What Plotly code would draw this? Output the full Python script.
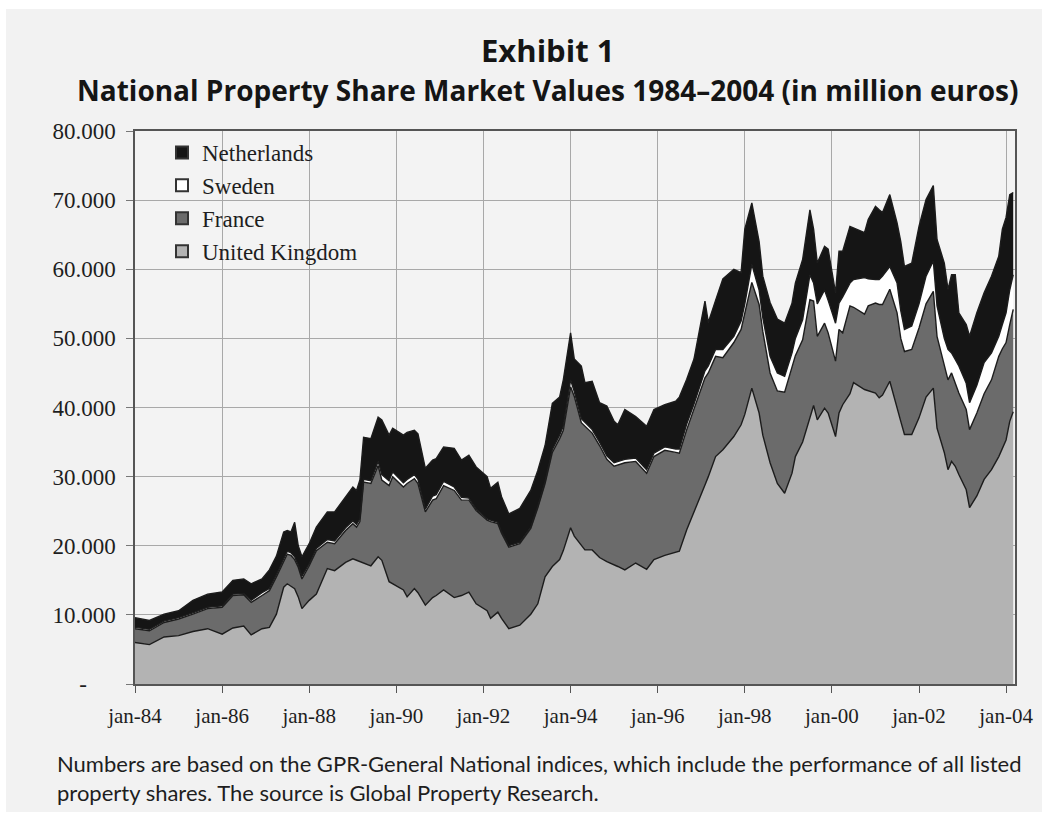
import plotly.graph_objects as go

# Month-end observations (sampled months), values in million euros
dates = [
    "1984-01", "1984-05", "1984-09", "1985-01", "1985-05", "1985-09", "1986-01", "1986-04", "1986-07", "1986-09",
    "1986-12", "1987-02", "1987-04", "1987-06", "1987-07", "1987-08", "1987-09", "1987-10", "1987-11", "1988-01",
    "1988-03", "1988-06", "1988-08", "1988-11", "1989-01", "1989-02", "1989-03", "1989-04", "1989-06", "1989-08",
    "1989-09", "1989-11", "1989-12", "1990-03", "1990-04", "1990-06", "1990-07", "1990-09", "1990-11", "1990-12",
    "1991-02", "1991-05", "1991-07", "1991-09", "1991-11", "1992-02", "1992-03", "1992-05", "1992-06", "1992-08",
    "1992-11", "1993-02", "1993-04", "1993-06", "1993-08", "1993-10", "1993-11", "1994-01", "1994-02", "1994-04",
    "1994-05", "1994-07", "1994-09", "1994-11", "1995-01", "1995-02", "1995-04", "1995-07", "1995-10", "1995-12",
    "1996-03", "1996-06", "1996-07", "1996-09", "1996-11", "1997-02", "1997-03", "1997-05", "1997-07", "1997-10",
    "1997-12", "1998-01", "1998-03", "1998-05", "1998-06", "1998-08", "1998-10", "1998-12", "1999-02", "1999-03",
    "1999-05", "1999-07", "1999-08", "1999-09", "1999-11", "1999-12", "2000-02", "2000-03", "2000-04", "2000-06",
    "2000-07", "2000-10", "2000-11", "2001-01", "2001-02", "2001-03", "2001-05", "2001-07", "2001-08", "2001-09",
    "2001-11", "2002-01", "2002-03", "2002-05", "2002-06", "2002-08", "2002-09", "2002-10", "2002-11", "2002-12",
    "2003-02", "2003-03", "2003-05", "2003-07", "2003-09", "2003-11", "2003-12", "2004-01", "2004-02", "2004-03",
]

united_kingdom = [
    6000, 5700, 6800, 7000, 7600, 8000, 7200, 8100, 8400, 7100,
    8000, 8200, 10100, 14000, 14500, 14200, 13800, 12600, 10900, 12100,
    13000, 16700, 16400, 17600, 18100, 17900, 17700, 17500, 17100, 18400,
    17900, 14800, 14500, 13600, 12600, 13800, 13200, 11400, 12500, 12800,
    13600, 12500, 12800, 13300, 11600, 10600, 9500, 10400, 9500, 8000,
    8500, 10100, 11600, 15500, 17000, 18000, 19300, 22600, 21400, 20100,
    19400, 19400, 18300, 17700, 17300, 17000, 16500, 17500, 16600, 18000,
    18600, 19100, 19200, 22300, 25000, 28800, 30000, 32900, 33900, 35800,
    37500, 39000, 42800, 39200, 36000, 32000, 29000, 27600, 30500, 32900,
    35000, 38500, 40300, 38200, 39900, 39200, 35800, 39200, 40400, 42000,
    43600, 42600, 42400, 42100, 41400, 41800, 43800, 40200, 38000, 36100,
    36100, 38500, 41500, 42800, 37000, 33500, 31000, 32200, 31500, 30300,
    28100, 25500, 27200, 29600, 31000, 32900, 34000, 35300, 38000, 39400,
]

france = [
    2000, 2000, 2100, 2400, 2500, 2900, 3900, 4700, 4500, 4700,
    4800, 5300, 5400, 3600, 4300, 4400, 4200, 4300, 4300, 5000,
    6300, 3800, 3900, 4600, 5100, 4800, 5800, 11700, 11900, 13200,
    11600, 13900, 15500, 14900, 16400, 15900, 15800, 13500, 14100, 14000,
    15100, 15500, 13800, 13300, 13500, 13100, 14000, 12800, 12300, 11800,
    11800, 12400, 13900, 13500, 16500, 17500, 17400, 20400, 20200, 17700,
    17900, 16900, 16200, 14800, 14200, 14700, 15500, 14700, 13900, 14900,
    15200, 14400, 14200, 14500, 14700, 15500, 15000, 14500, 13300, 13600,
    13800, 14500, 15300, 15700, 15000, 13000, 13400, 14600, 15500, 14600,
    14800, 17100, 15100, 12100, 12300, 11600, 10900, 12100, 10400, 12700,
    10900, 10900, 12300, 13000, 13500, 13100, 13300, 13500, 12000, 12000,
    12300, 13000, 13500, 14000, 13300, 12500, 13000, 12800, 12000, 11800,
    11600, 11300, 12000, 12400, 13000, 14500, 14500, 14100, 14000, 14800,
]

sweden = [
    200, 200, 200, 200, 200, 200, 200, 200, 200, 300,
    400, 300, 300, 400, 400, 400, 400, 300, 400, 300,
    300, 400, 400, 400, 400, 400, 400, 400, 400, 600,
    800, 700, 700, 600, 600, 600, 600, 400, 600, 600,
    600, 500, 400, 300, 200, 200, 200, 200, 200, 200,
    200, 200, 200, 300, 400, 500, 600, 1000, 700, 600,
    600, 500, 500, 500, 500, 500, 500, 500, 500, 500,
    500, 500, 600, 800, 800, 1000, 1000, 1000, 1200, 900,
    1200, 1500, 2600, 2100, 2000, 2400, 2600, 2300, 1900, 2500,
    2900, 3600, 2600, 4700, 4800, 4700, 5500, 3800, 5200, 3300,
    4000, 5300, 3900, 3400, 3600, 4100, 3300, 4300, 4000, 3200,
    3400, 3500, 4000, 4400, 4400, 4000, 4400, 2900, 3500, 3900,
    3800, 3900, 4000, 4500, 3900, 2900, 3500, 4300, 5000, 5000,
]

netherlands = [
    1400, 1300, 1000, 1000, 1800, 1900, 2000, 2000, 2100, 2400,
    2000, 2700, 2700, 4000, 3000, 3000, 5000, 2800, 2800, 2900,
    3100, 4000, 4200, 4500, 4900, 4900, 5600, 6100, 6100, 6400,
    7900, 6600, 6300, 6900, 6800, 6400, 6600, 5900, 5200, 5200,
    5000, 5600, 5400, 6200, 6100, 6100, 4600, 5800, 5100, 4600,
    4900, 5300, 5200, 5200, 6700, 5500, 6700, 6800, 4700, 7600,
    5700, 7000, 5700, 7200, 6000, 5300, 7200, 6000, 6300, 6300,
    6100, 6900, 7500, 6500, 6500, 10100, 6300, 7100, 10200, 9700,
    7000, 10800, 8900, 7000, 6000, 7800, 7800, 7700, 7200, 8000,
    8700, 9400, 7800, 5900, 6300, 7400, 4400, 7500, 6600, 8200,
    7500, 6500, 8600, 10600, 10100, 9200, 10400, 8700, 10000, 9100,
    9100, 11200, 11100, 10900, 9600, 10900, 8700, 11300, 12200, 7700,
    8500, 9600, 10500, 10100, 11100, 11600, 13800, 13800, 13800, 11900,
]

y_tick_values = [0, 10000, 20000, 30000, 40000, 50000, 60000, 70000, 80000]
y_tick_labels = ["-\u00a0\u00a0\u00a0\u00a0\u00a0", "10.000", "20.000", "30.000", "40.000",
                 "50.000", "60.000", "70.000", "80.000"]
x_tick_values = ["1984-01-01", "1986-01-01", "1988-01-01", "1990-01-01", "1992-01-01", "1994-01-01",
                 "1996-01-01", "1998-01-01", "2000-01-01", "2002-01-01", "2004-01-01"]
x_tick_labels = ["jan-84", "jan-86", "jan-88", "jan-90", "jan-92", "jan-94",
                 "jan-96", "jan-98", "jan-00", "jan-02", "jan-04"]

series = [
    ("United Kingdom", united_kingdom, "#b3b3b3"),
    ("France", france, "#6b6b6b"),
    ("Sweden", sweden, "#ffffff"),
    ("Netherlands", netherlands, "#151515"),
]

x_dates = [d + "-01" for d in dates]

fig = go.Figure()
for name, values, colour in series:
    fig.add_trace(go.Scatter(
        x=x_dates, y=values, name=name, stackgroup="one", mode="lines",
        line=dict(color="#1c1c1c", width=1.4), fillcolor=colour,
        showlegend=False, hoverinfo="x+y+name",
    ))

# square legend keys with a dark outline
for name, values, colour in series:
    fig.add_trace(go.Scatter(
        x=[None], y=[None], name=name, mode="markers",
        marker=dict(symbol="square", size=14, color=colour,
                    line=dict(color="#333333", width=1.2)),
        showlegend=True,
    ))

serif = "Liberation Serif, Times New Roman, serif"
sans = "Open Sans, sans-serif"

# plot area in pixels: left 135, right 1015, top 131, bottom 684
PX_L, PX_W, PX_B, PX_H = 135, 880, 684, 553


def px_x(x):
    return (x - PX_L) / PX_W


def px_y(y):
    return (PX_B - y) / PX_H


fig.update_layout(
    width=1047, height=819,
    paper_bgcolor="#f2f2f2", plot_bgcolor="#f3f3f3",
    margin=dict(l=135, r=32, t=131, b=135),
    showlegend=True,
    legend=dict(
        x=px_x(162), y=1.0, xanchor="left", yanchor="top",
        traceorder="reversed", bgcolor="rgba(0,0,0,0)",
        font=dict(family=serif, size=23, color="#1e1e1e"),
        itemsizing="constant",
    ),
    xaxis=dict(
        type="date", range=["1984-01-01", "2004-03-16"],
        tickvals=x_tick_values, ticktext=x_tick_labels,
        tickfont=dict(family=serif, size=21, color="#1e1e1e"),
        ticks="outside", ticklen=7, tickcolor="#555555", ticklabelstandoff=5,
        showgrid=True, gridcolor="#a8a8a8", gridwidth=1,
        showline=True, linecolor="#555555", linewidth=1.5, mirror=True,
        zeroline=False,
    ),
    yaxis=dict(
        range=[0, 80000],
        tickvals=y_tick_values, ticktext=y_tick_labels,
        tickfont=dict(family=serif, size=23, color="#1e1e1e"),
        ticks="outside", ticklen=7, tickcolor="#777777", ticklabelstandoff=6,
        showgrid=True, gridcolor="#a8a8a8", gridwidth=1,
        showline=True, linecolor="#555555", linewidth=1.5, mirror=True,
        zeroline=False,
    ),
    annotations=[
        dict(text="<b>Exhibit 1</b>", xref="paper", yref="paper",
             x=px_x(547), y=px_y(50), xanchor="center", yanchor="middle",
             showarrow=False, font=dict(family=sans, size=31, color="#151515", weight=800)),
        dict(text="<b>National Property Share Market Values 1984–2004 (in million euros)</b>",
             xref="paper", yref="paper",
             x=px_x(547), y=px_y(90), xanchor="center", yanchor="middle",
             showarrow=False, font=dict(family=sans, size=28, color="#151515", weight=800)),
        dict(text="Numbers are based on the GPR-General National indices, which include the performance of all listed<br>"
                  "property shares. The source is Global Property Research.",
             xref="paper", yref="paper", align="left",
             x=px_x(55), y=px_y(748), xanchor="left", yanchor="top",
             showarrow=False, font=dict(family="Lato, sans-serif", size=22, color="#1e1e1e")),
    ],
)

# white frame around the grey page
frame = [
    (0, 0, 1047, 9), (0, 0, 6, 819), (0, 812, 1047, 819), (1042, 0, 1047, 819),
]
for x0, y0, x1, y1 in frame:
    fig.add_shape(type="rect", xref="paper", yref="paper",
                  x0=px_x(x0), x1=px_x(x1), y0=px_y(y1), y1=px_y(y0),
                  fillcolor="white", line=dict(width=0), layer="above")

fig.write_html("out.html")
